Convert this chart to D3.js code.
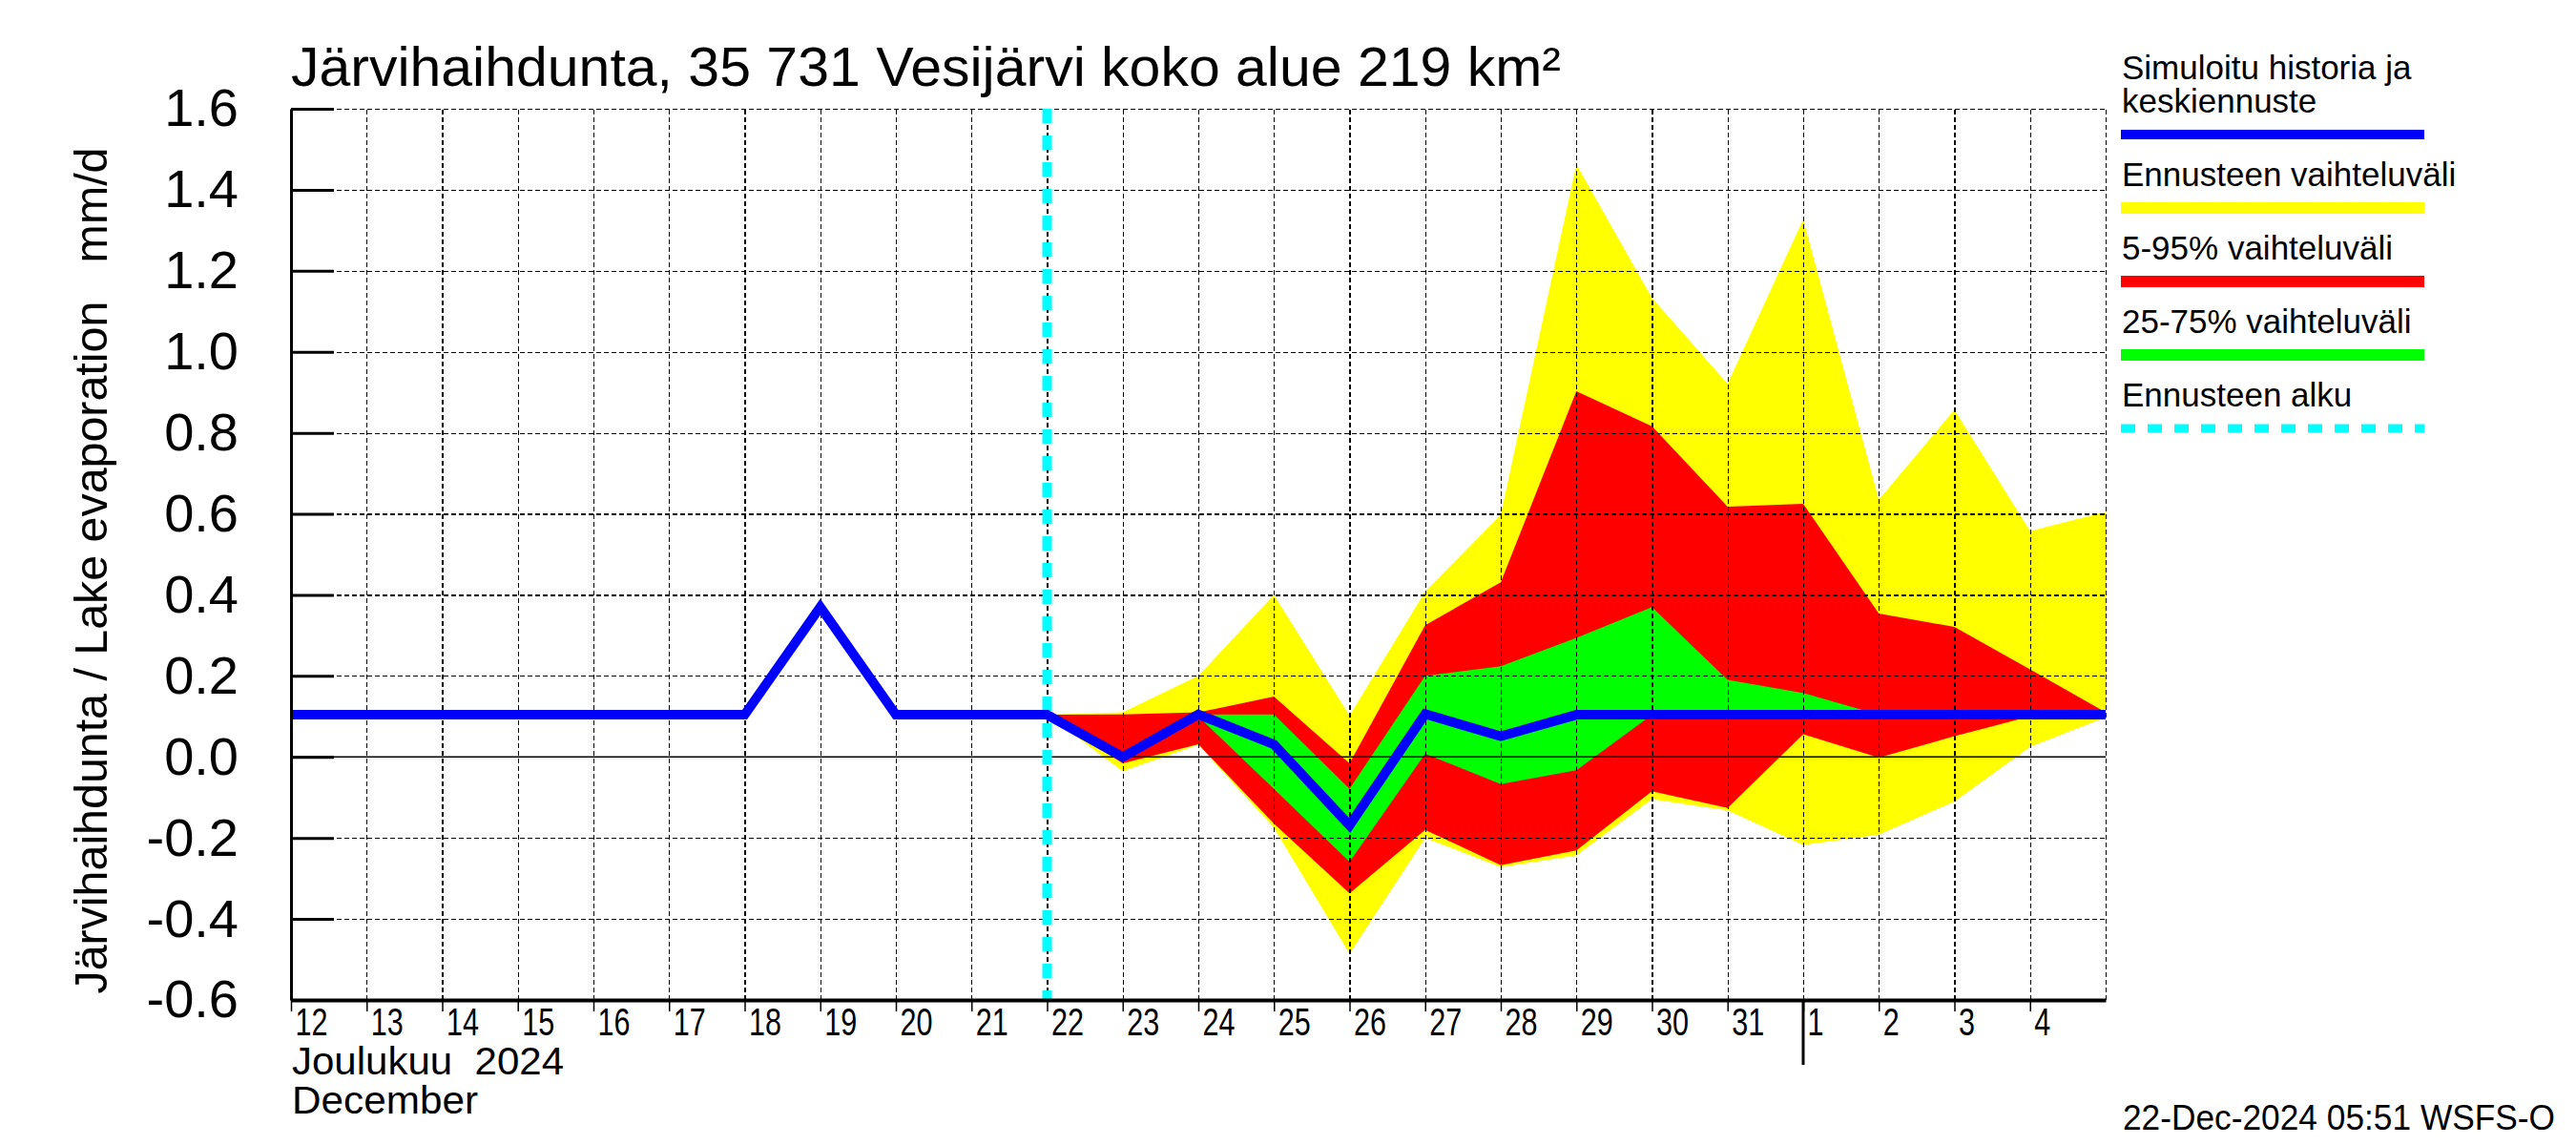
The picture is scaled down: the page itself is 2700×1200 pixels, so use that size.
<!DOCTYPE html>
<html><head><meta charset="utf-8">
<script src="https://cdn.jsdelivr.net/npm/d3@7"></script>
<style>
html,body{margin:0;padding:0;background:#fff;}
svg{display:block;font-family:"Liberation Sans",Arial,Helvetica,sans-serif;}
text{white-space:pre;}
</style></head><body>
<svg id="chart" width="2700" height="1200"></svg>
<script>
// ---------- text ----------
const titleText = "Järvihaihdunta, 35 731 Vesijärvi koko alue 219 km²";
const yAxisTitle = "Järvihaihdunta / Lake evaporation   mm/d";
const monthLabelFi = "Joulukuu  2024";
const monthLabelEn = "December";
const timestampText = "22-Dec-2024 05:51 WSFS-O";

// ---------- axes ----------
const yTicks = [-0.6, -0.4, -0.2, 0.0, 0.2, 0.4, 0.6, 0.8, 1.0, 1.2, 1.4, 1.6];
const dayTickDates = ["2024-12-12","2024-12-13","2024-12-14","2024-12-15","2024-12-16","2024-12-17",
  "2024-12-18","2024-12-19","2024-12-20","2024-12-21","2024-12-22","2024-12-23","2024-12-24",
  "2024-12-25","2024-12-26","2024-12-27","2024-12-28","2024-12-29","2024-12-30","2024-12-31",
  "2025-01-01","2025-01-02","2025-01-03","2025-01-04"];
const dayTickLabels = ["12","13","14","15","16","17","18","19","20","21","22","23","24","25","26",
  "27","28","29","30","31","1","2","3","4"];
const xDomain = ["2024-12-12", "2025-01-05"];
const monthStart = "2025-01-01";
const forecastStart = "2024-12-22";

// ---------- data ----------
const historyDates = ["2024-12-12","2024-12-13","2024-12-14","2024-12-15","2024-12-16","2024-12-17",
  "2024-12-18","2024-12-19","2024-12-20","2024-12-21","2024-12-22"];
const historyValues = [0.104,0.104,0.104,0.104,0.104,0.104,0.104,0.37,0.104,0.104,0.104];

const forecastDates = ["2024-12-22","2024-12-23","2024-12-24","2024-12-25","2024-12-26","2024-12-27",
  "2024-12-28","2024-12-29","2024-12-30","2024-12-31","2025-01-01","2025-01-02","2025-01-03",
  "2025-01-04","2025-01-05"];
const forecastMedian = [0.104, 0.0, 0.105, 0.031, -0.169, 0.106, 0.051, 0.104, 0.104, 0.104, 0.104, 0.104, 0.104, 0.104, 0.104];
const rangeMax = [0.104, 0.11, 0.2, 0.4, 0.102, 0.408, 0.598, 1.463, 1.133, 0.921, 1.327, 0.635, 0.857, 0.558, 0.605];
const rangeMin = [0.104, -0.035, 0.03, -0.175, -0.486, -0.2, -0.272, -0.243, -0.104, -0.132, -0.217, -0.192, -0.11, 0.025, 0.098];
const p95 = [0.104, 0.105, 0.11, 0.149, -0.016, 0.325, 0.431, 0.903, 0.816, 0.618, 0.625, 0.354, 0.321, 0.216, 0.11];
const p05 = [0.104, -0.016, 0.031, -0.165, -0.337, -0.18, -0.267, -0.231, -0.085, -0.126, 0.056, -0.002, 0.051, 0.1, 0.104];
const p75 = [0.104, 0.0, 0.105, 0.105, -0.079, 0.2, 0.224, 0.294, 0.37, 0.19, 0.158, 0.104, 0.104, 0.104, 0.104];
const p25 = [0.104, 0.0, 0.1, -0.079, -0.259, 0.008, -0.067, -0.033, 0.104, 0.104, 0.104, 0.104, 0.104, 0.104, 0.104];

const legendLabels = [["Simuloitu historia ja","keskiennuste"],["Ennusteen vaihteluväli"],
  ["5-95% vaihteluväli"],["25-75% vaihteluväli"],["Ennusteen alku"]];
const legendColors = ["#0000ff","#ffff00","#ff0000","#00ff00","#00ffff"];

// ---------- drawing ----------
const P = d3.utcParse("%Y-%m-%d");
const svg = d3.select("#chart");
const L = 305, R = 2207, T = 114, B = 1048;

const x = d3.scaleUtc().domain(xDomain.map(P)).range([L, R]);
const y = d3.scaleLinear().domain([-0.6, 1.6]).range([B, T]);

const band = (lo, hi) => d3.area()
  .x((d, i) => x(P(forecastDates[i])))
  .y0((d, i) => y(lo[i]))
  .y1((d, i) => y(hi[i]));

const plot = svg.append("g");
plot.append("path").datum(forecastDates).attr("d", band(rangeMin, rangeMax)).attr("fill", "#ffff00");
plot.append("path").datum(forecastDates).attr("d", band(p05, p95)).attr("fill", "#ff0000");
plot.append("path").datum(forecastDates).attr("d", band(p25, p75)).attr("fill", "#00ff00");

// grid
const gridDays = d3.utcDay.range(P("2024-12-13"), d3.utcDay.offset(P(xDomain[1]), 1));
const gx = svg.append("g").attr("transform", `translate(0,${B})`)
  .call(d3.axisBottom(x).tickValues(gridDays).tickSize(-(B - T)).tickFormat(""));
gx.select(".domain").remove();
gx.selectAll("line").attr("stroke", "#000").attr("stroke-width", 1.2).attr("stroke-dasharray", "5,3")
  .attr("shape-rendering", "crispEdges");

const gy = svg.append("g").attr("transform", `translate(${L},0)`)
  .call(d3.axisLeft(y).tickValues(yTicks.filter(v => v > -0.6 && Math.abs(v) > 1e-9)).tickSize(-(R - L)).tickFormat(""));
gy.select(".domain").remove();
gy.selectAll("line").attr("stroke", "#000").attr("stroke-width", 1.2).attr("stroke-dasharray", "5,3")
  .attr("shape-rendering", "crispEdges");

// zero line
svg.append("line").attr("x1", L).attr("x2", R).attr("y1", y(0)).attr("y2", y(0))
  .attr("stroke", "#000").attr("stroke-width", 1.3);

// forecast start line
svg.append("line").attr("x1", x(P(forecastStart))).attr("x2", x(P(forecastStart)))
  .attr("y1", T).attr("y2", B).attr("stroke", "#00ffff").attr("stroke-width", 10)
  .attr("stroke-dasharray", "15,13");

// median line
const line = d3.line().x(d => x(P(d[0]))).y(d => y(d[1]));
const medianPts = historyDates.map((d, i) => [d, historyValues[i]])
  .concat(forecastDates.slice(1).map((d, i) => [d, forecastMedian[i + 1]]));
svg.append("path").datum(medianPts).attr("d", line).attr("fill", "none")
  .attr("stroke", "#0000ff").attr("stroke-width", 10).attr("stroke-linejoin", "miter");

// y axis
const ya = svg.append("g").attr("transform", `translate(${L},0)`)
  .call(d3.axisLeft(y).tickValues(yTicks).tickSizeInner(-45).tickSizeOuter(0).tickPadding(55)
    .tickFormat(d => d.toFixed(1)));
ya.select(".domain").attr("stroke-width", 3);
ya.selectAll(".tick line").attr("stroke-width", 3);
ya.selectAll(".tick text").attr("font-size", 56).attr("font-family", "Liberation Sans, Arial, sans-serif")
  .attr("fill", "#000");

// x axis
const xa = svg.append("g").attr("transform", `translate(0,${B})`)
  .call(d3.axisBottom(x).tickValues(dayTickDates.map(P)).tickSizeInner(12).tickSizeOuter(0)
    .tickFormat((d, i) => dayTickLabels[i]));
xa.select(".domain").attr("stroke-width", 4);
xa.selectAll(".tick line").attr("stroke-width", 1.5);
xa.selectAll(".tick text").attr("font-size", 40).attr("font-family", "Liberation Sans, Arial, sans-serif")
  .attr("text-anchor", "start").attr("x", 4).attr("y", 37).attr("dy", null).attr("fill", "#000")
  .attr("textLength", (d, i) => dayTickLabels[i].length * 17).attr("lengthAdjust", "spacingAndGlyphs");

// month boundary
svg.append("line").attr("x1", x(P(monthStart))).attr("x2", x(P(monthStart)))
  .attr("y1", B).attr("y2", 1116).attr("stroke", "#000").attr("stroke-width", 3);

// texts
svg.append("text").attr("x", L).attr("y", 90).attr("font-size", 58)
  .attr("textLength", 1331).attr("lengthAdjust", "spacingAndGlyphs").text(titleText);
svg.append("text").attr("transform", "translate(112,598) rotate(-90)").attr("text-anchor", "middle")
  .attr("font-size", 48).attr("textLength", 887).attr("lengthAdjust", "spacingAndGlyphs").text(yAxisTitle);
svg.append("text").attr("x", 306).attr("y", 1126).attr("font-size", 40)
  .attr("textLength", 285).attr("lengthAdjust", "spacingAndGlyphs").text(monthLabelFi);
svg.append("text").attr("x", 306).attr("y", 1167).attr("font-size", 40)
  .attr("textLength", 195).attr("lengthAdjust", "spacingAndGlyphs").text(monthLabelEn);
svg.append("text").attr("x", 2678).attr("y", 1184).attr("font-size", 37).attr("text-anchor", "end")
  .attr("textLength", 453).attr("lengthAdjust", "spacingAndGlyphs").text(timestampText);

// legend
const lg = svg.append("g");
let base = 83;
legendLabels.forEach((lines, i) => {
  lines.forEach((t, j) => {
    lg.append("text").attr("x", 2224).attr("y", base + j * 35).attr("font-size", 35).text(t);
  });
  const barY = base + (lines.length - 1) * 35 + 23;
  lg.append("line").attr("x1", 2223).attr("x2", 2541).attr("y1", barY).attr("y2", barY)
    .attr("stroke", legendColors[i]).attr("stroke-width", i === 0 ? 10 : (i === 4 ? 9 : 12))
    .attr("stroke-dasharray", i === 4 ? "15,13" : null);
  base = barY + 54;
});
</script>
</body></html>
